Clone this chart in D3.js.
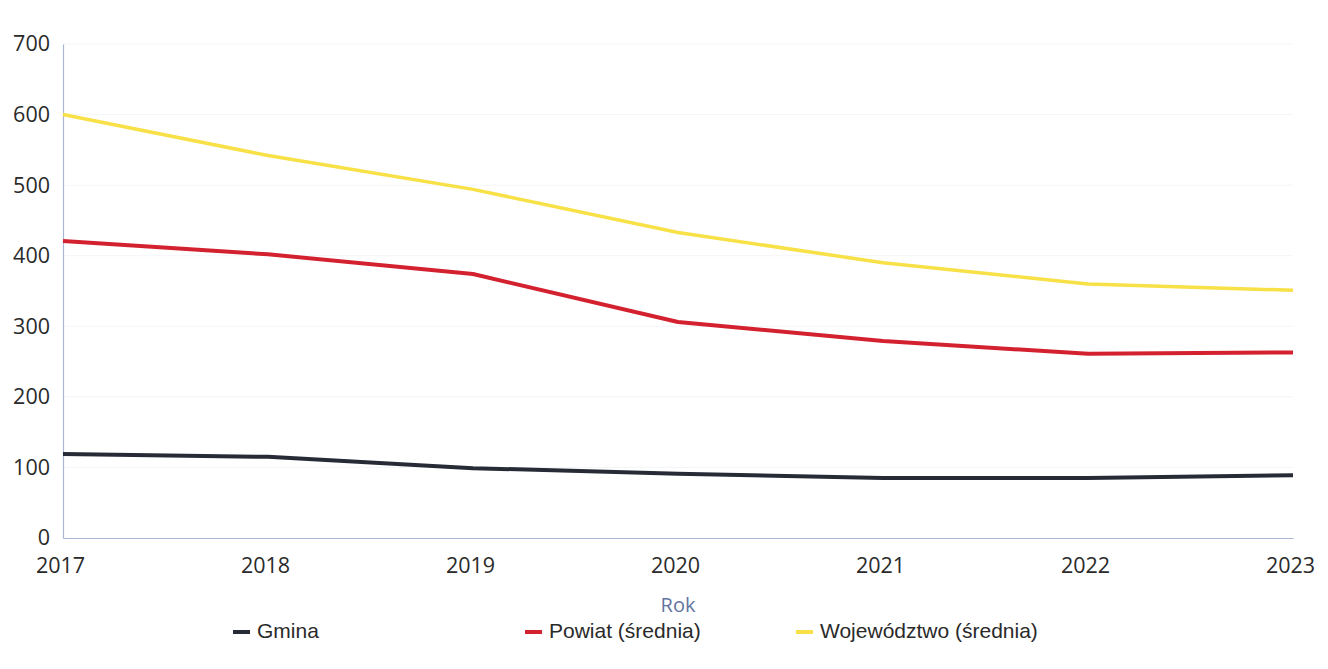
<!DOCTYPE html>
<html>
<head>
<meta charset="utf-8">
<script src="https://cdn.jsdelivr.net/npm/d3@7"></script>
<style>
  body { margin: 0; background: #fff; }
  svg { display: block; }
</style>
</head>
<body>
<script>
// data
var years = [2017, 2018, 2019, 2020, 2021, 2022, 2023];
var gmina = [119, 115, 99, 91, 85, 85, 89];
var powiat = [421, 402, 374, 306, 279, 261, 263];
var wojewodztwo = [600, 542, 494, 433, 390, 360, 351];
var yTicks = [0, 100, 200, 300, 400, 500, 600, 700];

var series = [
    {name: "Gmina", values: gmina, color: "#262b36", width: 4},
    {name: "Powiat (średnia)", values: powiat, color: "#d3212f", width: 4},
    {name: "Województwo (średnia)", values: wojewodztwo, color: "#f8e047", width: 3.5}
];

var width = 1328;
var height = 669;

var svg = d3.select("body")
    .append("svg")
    .attr("width", width)
    .attr("height", height);

var x = d3.scaleLinear()
    .domain([2017, 2023])
    .range([63, 1293]);

var y = d3.scaleLinear()
    .domain([0, 700])
    .range([538, 44]);

// very faint grid lines
svg.append("g")
    .selectAll("line")
    .data(yTicks.slice(1))
    .enter()
    .append("line")
    .attr("x1", x(2017))
    .attr("x2", x(2023))
    .attr("y1", function(d) { return y(d); })
    .attr("y2", function(d) { return y(d); })
    .attr("stroke", "#f4f5f9")
    .attr("stroke-width", 1);

// y axis
var yAxis = svg.append("g")
    .attr("transform", "translate(" + x(2017) + ",0)")
    .call(d3.axisLeft(y).tickValues(yTicks).tickSize(0).tickPadding(13));

// x axis
var xAxis = svg.append("g")
    .attr("transform", "translate(0," + y(0) + ")")
    .call(d3.axisBottom(x).tickValues(years).tickFormat(d3.format("d")).tickSize(0).tickPadding(20));

[yAxis, xAxis].forEach(function(ax) {
    ax.select(".domain")
        .attr("stroke", "#a9b6d6")
        .attr("stroke-width", 1.2);
    ax.selectAll("text")
        .attr("font-family", "'Open Sans', sans-serif")
        .attr("font-size", "21.5px")
        .attr("fill", "#2a2a2a");
});
xAxis.selectAll("text").attr("dx", "-3px");

// axis title
svg.append("text")
    .attr("x", 678)
    .attr("y", 612)
    .attr("text-anchor", "middle")
    .attr("font-family", "'Open Sans', sans-serif")
    .attr("font-size", "20px")
    .attr("fill", "#6475a0")
    .text("Rok");

// lines
var line = d3.line()
    .x(function(d, i) { return x(years[i]); })
    .y(function(d) { return y(d); });

svg.append("g")
    .selectAll("path")
    .data(series)
    .enter()
    .append("path")
    .attr("d", function(d) { return line(d.values); })
    .attr("fill", "none")
    .attr("stroke", function(d) { return d.color; })
    .attr("stroke-width", function(d) { return d.width; })
    .attr("stroke-linejoin", "round");

// legend
var legendX = [233, 525, 796];
var legend = svg.append("g")
    .selectAll("g")
    .data(series)
    .enter()
    .append("g")
    .attr("transform", function(d, i) { return "translate(" + legendX[i] + ",638)"; });

legend.append("line")
    .attr("x1", 0)
    .attr("x2", 17)
    .attr("y1", -6)
    .attr("y2", -6)
    .attr("stroke", function(d) { return d.color; })
    .attr("stroke-width", 4);

legend.append("text")
    .attr("x", 24)
    .attr("y", 0)
    .attr("font-family", "'Liberation Sans', Arial, sans-serif")
    .attr("font-size", "21px")
    .attr("fill", "#2a2a2a")
    .text(function(d) { return d.name; });
</script>
</body>
</html>
